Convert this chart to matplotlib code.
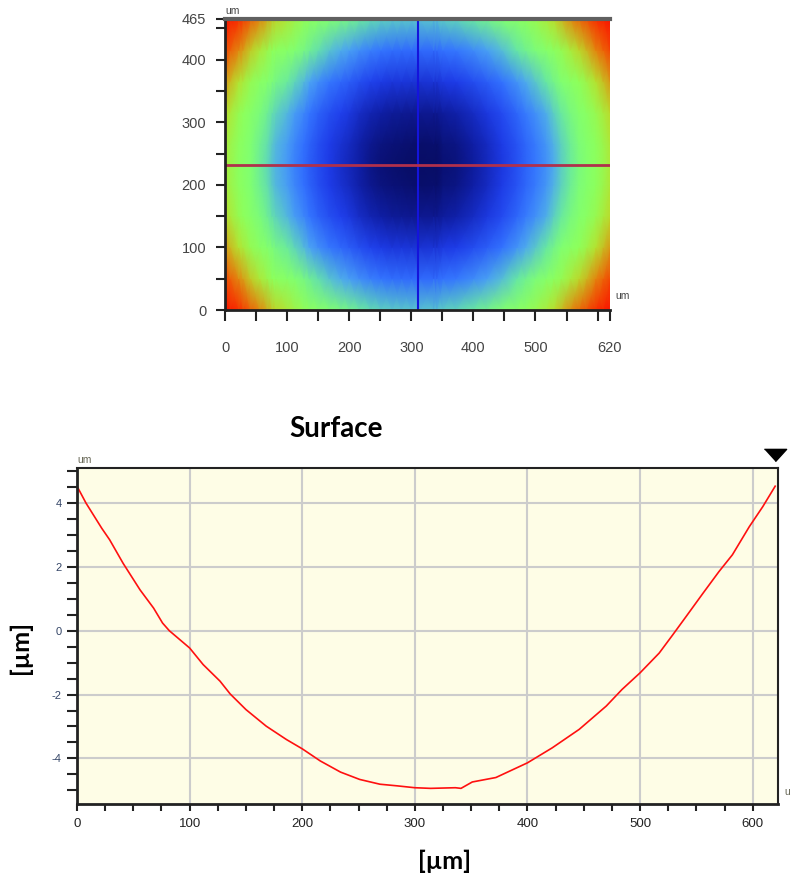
import numpy as np
import matplotlib.pyplot as plt
from matplotlib.colors import LinearSegmentedColormap

plt.rcParams['axes.unicode_minus'] = False

# Height profile along the horizontal cut (x in um, height in um)
prof_x = [0, 8, 22, 29, 41, 56, 68, 76, 82, 100, 112, 127, 136, 150, 168, 186,
          200, 216, 234, 251, 269, 284, 300, 314, 336, 341, 351, 372, 400, 422,
          446, 470, 484, 500, 517, 529, 541, 556, 570, 582, 597, 609, 620]
prof_z = [4.53, 4.0, 3.21, 2.85, 2.11, 1.28, 0.71, 0.24, 0.0, -0.54, -1.06, -1.58,
          -1.98, -2.47, -2.99, -3.41, -3.70, -4.08, -4.43, -4.66, -4.81, -4.86,
          -4.92, -4.94, -4.92, -4.94, -4.74, -4.60, -4.14, -3.67, -3.09, -2.36,
          -1.84, -1.32, -0.70, -0.13, 0.45, 1.18, 1.85, 2.38, 3.26, 3.89, 4.53]

# Rise of the surface along y, relative to the cut line
rise_y_pos = [0, 50, 100, 150, 200, 232, 265, 315, 365, 415, 465]
rise_y_val = [5.2, 3.3, 1.7, 0.6, 0.1, 0.0, 0.1, 0.6, 1.7, 3.3, 5.2]

# cursor position on the map
cursor_x = 310
cursor_y = 232

map_xticks = [0, 100, 200, 300, 400, 500, 620]
map_xminor = [50, 150, 250, 350, 450, 550, 600]
map_yticks = [0, 100, 200, 300, 400, 465]
map_yminor = [50, 150, 250, 350, 450]

surf_cmap = LinearSegmentedColormap.from_list('surf', [
    (0.00, (0.03, 0.05, 0.40)),
    (0.06, (0.06, 0.12, 0.65)),
    (0.14, (0.12, 0.24, 0.92)),
    (0.24, (0.20, 0.45, 1.00)),
    (0.32, (0.30, 0.65, 0.95)),
    (0.40, (0.40, 0.90, 0.65)),
    (0.48, (0.50, 1.00, 0.45)),
    (0.58, (0.56, 1.00, 0.35)),
    (0.68, (0.72, 0.88, 0.18)),
    (0.79, (0.90, 0.50, 0.05)),
    (0.90, (0.97, 0.20, 0.00)),
    (1.00, (0.98, 0.08, 0.00)),
])

tick_font = ['Liberation Sans', 'DejaVu Sans']
bold_font = ['Lato', 'DejaVu Sans']

fig = plt.figure(figsize=(7.92, 8.76), dpi=100)

# ---- top: height map ----
ax1 = fig.add_axes([225/792, 1-310/876, 385/792, 291/876])
Z = np.array(prof_z)[None, :] + np.array(rise_y_val)[:, None]
ax1.pcolormesh(prof_x, rise_y_pos, Z, shading='gouraud', cmap=surf_cmap)
ax1.axvline(cursor_x, color='#1414dc', lw=1.5)
ax1.axhline(cursor_y, color='#b0304c', lw=2)
ax1.set_xlim(0, 620)
ax1.set_ylim(0, 465)
ax1.set_xticks(map_xticks)
ax1.set_xticks(map_xminor, minor=True)
ax1.set_yticks(map_yticks)
ax1.set_yticks(map_yminor, minor=True)
ax1.tick_params(axis='x', which='both', direction='out', length=8, width=1.5,
                color='#222222', pad=14, labelsize=10.5, labelcolor='#444444')
ax1.tick_params(axis='y', which='both', direction='out', length=6.5, width=1.5,
                color='#222222', pad=7, labelsize=10.5, labelcolor='#444444')
for lab in ax1.get_xticklabels() + ax1.get_yticklabels():
    lab.set_family(tick_font)
ax1.spines['right'].set_visible(False)
ax1.spines['top'].set_color('#606060')
ax1.spines['top'].set_linewidth(3)
ax1.spines['left'].set_color('#222222')
ax1.spines['left'].set_linewidth(2)
ax1.spines['bottom'].set_color('#222222')
ax1.spines['bottom'].set_linewidth(2)
ax1.text(0, 1.01, 'um', transform=ax1.transAxes, fontsize=7.5, color='#444444',
         family=tick_font, ha='left', va='bottom')
ax1.text(1.013, 0.03, 'um', transform=ax1.transAxes, fontsize=7.5, color='#444444',
         family=tick_font, ha='left', va='bottom')

# ---- bottom: profile ----
ax2 = fig.add_axes([77/792, 1-804/876, 701/792, 336/876])
ax2.set_facecolor('#fefde6')
ax2.plot(prof_x, prof_z, color='#ff1010', lw=1.2)
ax2.set_xlim(0, 622.5)
ax2.set_ylim(-5.43, 5.1)
ax2.set_xticks(range(0, 601, 100))
ax2.set_xticks(range(25, 601, 25), minor=True)
ax2.set_yticks([-4, -2, 0, 2, 4])
ax2.set_yticks(np.arange(-5, 5.1, 0.5), minor=True)
ax2.grid(True, which='major', color='#cccccc', lw=1.5)
ax2.set_axisbelow(True)
ax2.tick_params(axis='x', which='both', direction='out', length=5, width=1.5,
                color='#222222', pad=5, labelsize=9.5, labelcolor='#222222')
ax2.tick_params(axis='y', which='both', direction='out', length=7, width=1.5,
                color='#222222', pad=4, labelsize=8, labelcolor='#334466')
for lab in ax2.get_xticklabels() + ax2.get_yticklabels():
    lab.set_family(tick_font)
for side in ['left', 'bottom']:
    ax2.spines[side].set_linewidth(2)
    ax2.spines[side].set_color('#222222')
for side in ['top', 'right']:
    ax2.spines[side].set_linewidth(1.5)
    ax2.spines[side].set_color('#222222')
# end-of-profile marker above the plot
ax2.plot([620], [1.038], marker=[(-1, 0.55), (1, 0.55), (0, -0.55)], ms=16,
         color='black', transform=ax2.get_xaxis_transform(), clip_on=False)
ax2.text(0, 1.01, 'um', transform=ax2.transAxes, fontsize=7.5, color='#666655',
         family=tick_font, ha='left', va='bottom')
ax2.text(1.009, 0.02, 'u', transform=ax2.transAxes, fontsize=7.5, color='#666655',
         family=tick_font, ha='left', va='bottom')

ax2.set_title('Surface', fontsize=20, fontweight='bold', family=bold_font,
              x=(336 - 77) / 701, pad=22)
ax2.set_xlabel('[µm]', fontsize=18, fontweight='bold', family=bold_font,
               x=(445 - 77) / 701, labelpad=14)
ax2.set_ylabel('[µm]', fontsize=18, fontweight='bold', family=bold_font,
               y=(804 - 647) / 336, labelpad=14)

fig.savefig('out.png', dpi=100)
